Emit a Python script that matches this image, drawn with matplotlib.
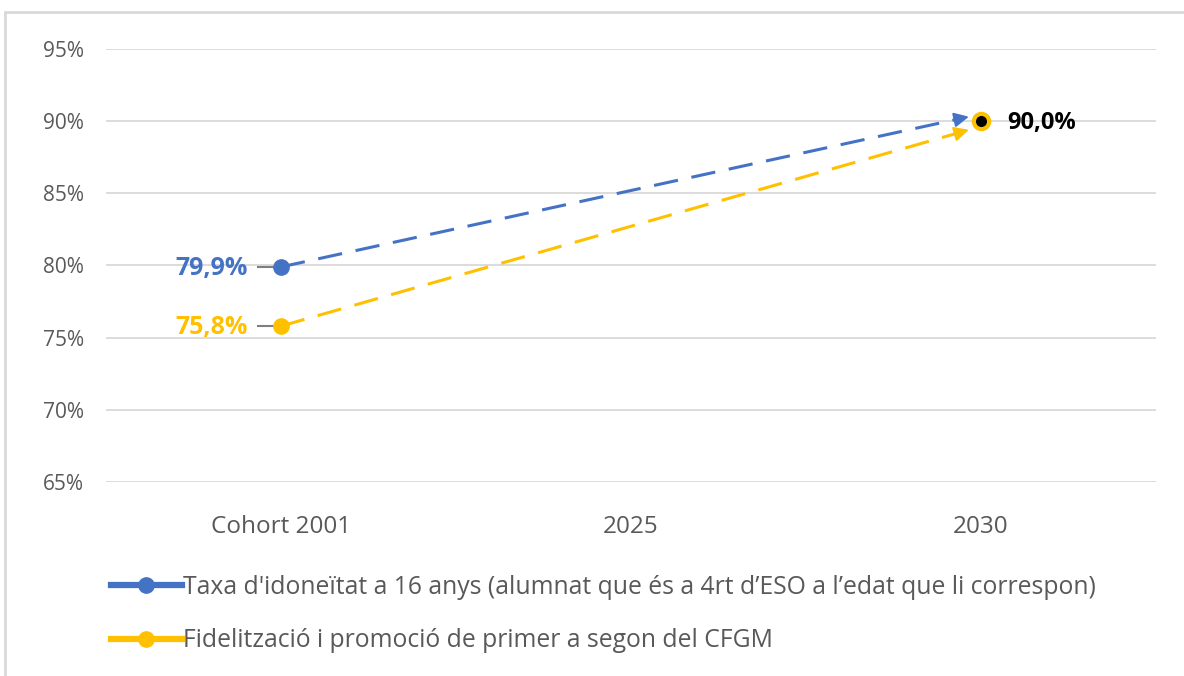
import matplotlib.pyplot as plt
from matplotlib.lines import Line2D
from matplotlib.patches import Rectangle

# - data - #
categories = ['Cohort 2001', '2025', '2030']
idoneitat = [79.9, None, 90.0]
fidelitzacio = [75.8, None, 90.0]
labels_start = ['79,9%', '75,8%']
label_end = '90,0%'
series_names = ["Taxa d'idoneïtat a 16 anys (alumnat que és a 4rt d\u2019ESO a l\u2019edat que li correspon)",
                'Fidelització i promoció de primer a segon del CFGM']
y_ticks = [65, 70, 75, 80, 85, 90, 95]

blue = '#4472C4'
yellow = '#FFC000'
grey = '#595959'

plt.rcParams['font.family'] = ['Open Sans', 'DejaVu Sans']

fig = plt.figure(figsize=(11.84, 6.76), dpi=100)
ax = fig.add_axes([0.0895, 0.287, 0.8865, 0.6405])

xpos = [i + 0.5 for i in range(len(categories))]
ax.set_xlim(0, 3)
ax.set_ylim(65, 95)
ax.set_yticks(y_ticks)
ax.set_yticklabels([f'{v}%' for v in y_ticks], color=grey, fontsize=15)
ax.set_xticks(xpos)
ax.set_xticklabels(categories, color=grey, fontsize=17.5)
ax.tick_params(length=0)
ax.tick_params(axis='y', pad=16)
ax.tick_params(axis='x', pad=24)
ax.grid(axis='y', color='#d9d9d9', linewidth=1.3)
ax.set_axisbelow(True)
for s in ax.spines.values():
    s.set_visible(False)

# dashed arrows from first value to the 2030 target
x0, x1 = xpos[0], xpos[2]
for vals, col, off in [(idoneitat, blue, 0.35), (fidelitzacio, yellow, -0.55)]:
    tip_x = x1 - 0.026
    tip_y = vals[2] + off
    slope = (tip_y - vals[0]) / (tip_x - x0)
    ax.plot([x0, tip_x - 0.03], [vals[0], tip_y - 0.03 * slope],
            '--', color=col, linewidth=2.2, dashes=(8, 4.5), zorder=3)
    ax.annotate('', xy=(tip_x, tip_y),
                xytext=(tip_x - 0.06, tip_y - 0.06 * slope),
                arrowprops=dict(arrowstyle='-|>', color=col, lw=1.5, mutation_scale=22),
                zorder=4)

# start markers, leader lines and labels
for vals, col, lab in [(idoneitat, blue, labels_start[0]), (fidelitzacio, yellow, labels_start[1])]:
    ax.plot([x0 - 0.065, x0], [vals[0], vals[0]], color='#7f7f7f', linewidth=1.5, zorder=3)
    ax.plot(x0, vals[0], 'o', color=col, markersize=11, zorder=5)
    ax.text(x0 - 0.095, vals[0] - 0.1, lab, color=col, fontsize=18, fontweight='bold',
            ha='right', va='center')

# target marker
ax.plot(x1, idoneitat[2], 'o', markerfacecolor='black', markeredgecolor=yellow,
        markeredgewidth=3, markersize=11, zorder=6)
ax.text(x1 + 0.075, idoneitat[2] - 0.1, label_end, color='black', fontsize=17,
        fontweight='bold', ha='left', va='center')

# legend
handles = [Line2D([], [], color=blue, linewidth=4.5, marker='o', markersize=11),
           Line2D([], [], color=yellow, linewidth=4.5, marker='o', markersize=11)]
leg = fig.legend(handles, series_names, loc='upper left', bbox_to_anchor=(0.085, 0.164),
                 frameon=False, fontsize=17.8, handlelength=2.9, handletextpad=0.05,
                 labelspacing=1.15, borderaxespad=0)
for t in leg.get_texts():
    t.set_color(grey)

# outer frame
fig.patches.append(Rectangle((5 / 1184, -0.01), 1.1, 1 - 12 / 676 + 0.01,
                             transform=fig.transFigure, fill=False,
                             edgecolor='#d9d9d9', linewidth=2))

fig.savefig('out.png', dpi=100)
